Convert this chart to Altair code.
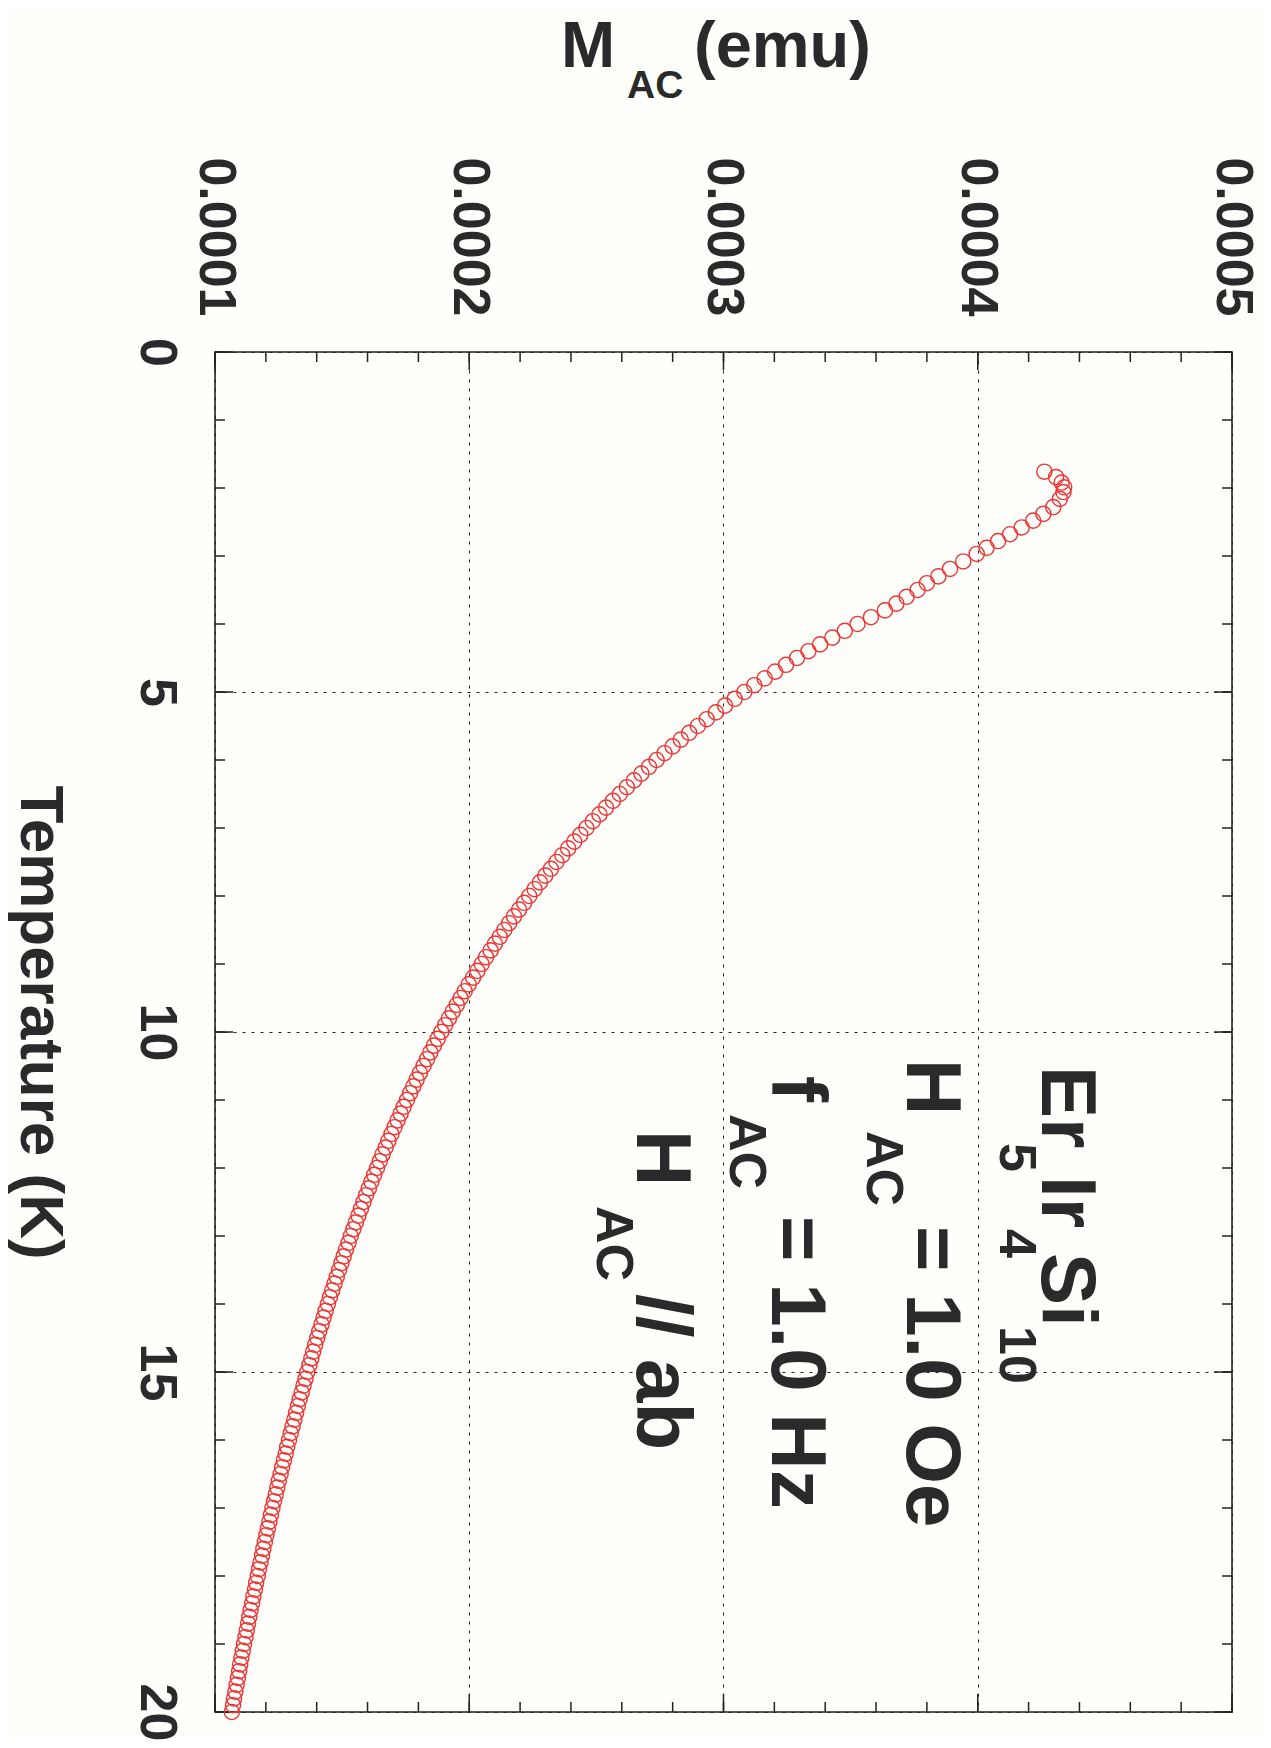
import altair as alt
import pandas as pd

# ---- data (T in K, M_AC in units of 1e-4 emu) ----
temperature_K = [
    1.76, 1.84, 1.92, 1.99, 2.06, 2.16, 2.28, 2.38, 2.48, 2.58,
    2.68, 2.78, 2.88, 2.97, 3.08, 3.19, 3.30, 3.40, 3.50, 3.60,
    3.70, 3.80, 3.90, 4.00,
    4.1, 4.2, 4.3, 4.4, 4.5, 4.6, 4.7, 4.8, 4.9, 5.0,
    5.1, 5.2, 5.3, 5.4, 5.5, 5.6, 5.7, 5.8, 5.9, 6.0,
    6.1, 6.2, 6.3, 6.4, 6.5, 6.6, 6.7, 6.8, 6.9, 7.0,
    7.1, 7.2, 7.3, 7.4, 7.5, 7.6, 7.7, 7.8, 7.9, 8.0,
    8.1, 8.2, 8.3, 8.4, 8.5, 8.6, 8.7, 8.8, 8.9, 9.0,
    9.1, 9.2, 9.3, 9.4, 9.5, 9.6, 9.7, 9.8, 9.9, 10.0,
    10.1, 10.2, 10.3, 10.4, 10.5, 10.6, 10.7, 10.8, 10.9, 11.0,
    11.1, 11.2, 11.3, 11.4, 11.5, 11.6, 11.7, 11.8, 11.9, 12.0,
    12.1, 12.2, 12.3, 12.4, 12.5, 12.6, 12.7, 12.8, 12.9, 13.0,
    13.1, 13.2, 13.3, 13.4, 13.5, 13.6, 13.7, 13.8, 13.9, 14.0,
    14.1, 14.2, 14.3, 14.4, 14.5, 14.6, 14.7, 14.8, 14.9, 15.0,
    15.1, 15.2, 15.3, 15.4, 15.5, 15.6, 15.7, 15.8, 15.9, 16.0,
    16.1, 16.2, 16.3, 16.4, 16.5, 16.6, 16.7, 16.8, 16.9, 17.0,
    17.1, 17.2, 17.3, 17.4, 17.5, 17.6, 17.7, 17.8, 17.9, 18.0,
    18.1, 18.2, 18.3, 18.4, 18.5, 18.6, 18.7, 18.8, 18.9, 19.0,
    19.1, 19.2, 19.3, 19.4, 19.5, 19.6, 19.7, 19.8, 19.9, 20.0,
]
m_ac_1e4_emu = [
    4.262, 4.308, 4.330, 4.340, 4.337, 4.323, 4.297, 4.258, 4.218, 4.173,
    4.127, 4.080, 4.035, 3.996, 3.943, 3.891, 3.845, 3.800, 3.763, 3.720,
    3.680, 3.635, 3.580, 3.527,
    3.477, 3.428, 3.380, 3.334, 3.289, 3.246, 3.203, 3.162, 3.121, 3.082,
    3.044, 3.006, 2.970, 2.934, 2.899, 2.865, 2.832, 2.800, 2.768, 2.737,
    2.707, 2.677, 2.648, 2.620, 2.592, 2.565, 2.538, 2.512, 2.486, 2.461,
    2.437, 2.413, 2.389, 2.366, 2.343, 2.321, 2.299, 2.278, 2.257, 2.236,
    2.216, 2.196, 2.176, 2.157, 2.138, 2.120, 2.101, 2.084, 2.066, 2.049,
    2.032, 2.015, 1.998, 1.982, 1.966, 1.951, 1.935, 1.920, 1.905, 1.890,
    1.876, 1.861, 1.847, 1.834, 1.820, 1.806, 1.793, 1.780, 1.767, 1.755,
    1.742, 1.730, 1.718, 1.706, 1.694, 1.682, 1.671, 1.659, 1.648, 1.637,
    1.626, 1.615, 1.605, 1.594, 1.584, 1.574, 1.564, 1.554, 1.544, 1.534,
    1.525, 1.515, 1.506, 1.497, 1.488, 1.479, 1.470, 1.461, 1.452, 1.444,
    1.435, 1.427, 1.419, 1.410, 1.402, 1.394, 1.386, 1.379, 1.371, 1.363,
    1.356, 1.348, 1.341, 1.333, 1.326, 1.319, 1.312, 1.305, 1.298, 1.291,
    1.284, 1.278, 1.271, 1.264, 1.258, 1.251, 1.245, 1.239, 1.232, 1.226,
    1.220, 1.214, 1.208, 1.202, 1.196, 1.190, 1.185, 1.179, 1.173, 1.168,
    1.162, 1.157, 1.151, 1.146, 1.140, 1.135, 1.130, 1.125, 1.120, 1.114,
    1.109, 1.104, 1.099, 1.095, 1.090, 1.085, 1.080, 1.075, 1.071, 1.066,
]

m_ticks_major = [0.0001, 0.0002, 0.0003, 0.0004, 0.0005]
m_ticks_minor = [0.0001, 0.00012, 0.00014, 0.00016, 0.00018,
                 0.0002, 0.00022, 0.00024, 0.00026, 0.00028,
                 0.0003, 0.00032, 0.00034, 0.00036, 0.00038,
                 0.0004, 0.00042, 0.00044, 0.00046, 0.00048, 0.0005]
t_ticks_major = [0, 5, 10, 15, 20]
t_ticks_minor = [0, 1, 2, 3, 4, 5, 6, 7, 8, 9, 10,
                 11, 12, 13, 14, 15, 16, 17, 18, 19, 20]

# ---- style ----
W, H = 1017, 1360
FONT = "Liberation Sans"
TXT = "#2a2a2a"
RED = "#ee3535"
FRAME = "#222222"
BG = "#fefefa"

df = pd.DataFrame({"T": temperature_K,
                   "M": [v * 1e-4 for v in m_ac_1e4_emu]})

xscale = alt.Scale(domain=[0.0001, 0.0005], nice=False, zero=False)
yscale = alt.Scale(domain=[0, 20], reverse=True, nice=False, zero=False)

x_axis = alt.Axis(orient="top", values=m_ticks_major, format=".4f",
                  labelAngle=90, labelAlign="right", labelBaseline="middle",
                  labelPadding=36, ticks=False, domain=False,
                  grid=True, gridDash=[3, 6], gridColor=FRAME, gridWidth=1,
                  title=None, labelFontSize=52, labelFont=FONT,
                  labelFontWeight="bold", labelColor=TXT,
                  labelOverlap=False, labelFlush=False, labelBound=False)
y_axis = alt.Axis(orient="left", values=t_ticks_major, format="d",
                  labelAngle=90, labelAlign="center", labelBaseline="middle",
                  labelPadding=59, ticks=False, domain=False,
                  grid=True, gridDash=[3, 6], gridColor=FRAME, gridWidth=1,
                  labelFontSize=52, labelFont=FONT, labelFontWeight="bold",
                  labelColor=TXT, labelOverlap=False, labelFlush=False,
                  labelBound=False,
                  title="Temperature (K)", titleAngle=90, titleX=-195,
                  titleY=670, titleAlign="center", titleBaseline="alphabetic",
                  titleFontSize=62, titleFont=FONT, titleFontWeight="bold",
                  titleColor=TXT)

points = alt.Chart(df).mark_point(
    shape="circle", filled=False, size=230, strokeWidth=1.4,
    color=RED, opacity=1
).encode(
    x=alt.X("M:Q", scale=xscale, axis=x_axis),
    y=alt.Y("T:Q", scale=yscale, axis=y_axis),
)


def t_ticks(vals, side, length):
    d = pd.DataFrame({"T": vals})
    if side == "left":
        xv, x2v = 0, length
    else:
        xv, x2v = W, W - length
    return alt.Chart(d).mark_rule(color=FRAME, strokeWidth=1.5).encode(
        y=alt.Y("T:Q", scale=yscale, axis=y_axis),
        x=alt.value(xv), x2=alt.value(x2v))


def m_ticks(vals, side, length):
    d = pd.DataFrame({"M": vals})
    if side == "top":
        yv, y2v = 0, length
    else:
        yv, y2v = H, H - length
    return alt.Chart(d).mark_rule(color=FRAME, strokeWidth=1.5).encode(
        x=alt.X("M:Q", scale=xscale, axis=x_axis),
        y=alt.value(yv), y2=alt.value(y2v))


ticks = [
    t_ticks(t_ticks_minor, "left", 10), t_ticks(t_ticks_major, "left", 18),
    t_ticks(t_ticks_minor, "right", 10), t_ticks(t_ticks_major, "right", 18),
    m_ticks(m_ticks_minor, "top", 10), m_ticks(m_ticks_major, "top", 18),
    m_ticks(m_ticks_minor, "bottom", 10), m_ticks(m_ticks_major, "bottom", 18),
]


def label(txt, x, y, size, angle):
    return alt.Chart(pd.DataFrame({"s": [txt]})).mark_text(
        align="left", baseline="alphabetic", angle=angle, fontSize=size,
        font=FONT, fontWeight="bold", color=TXT
    ).encode(x=alt.value(x), y=alt.value(y), text="s:N")


texts = [
    # top axis title  M_AC (emu)
    label("M", 346, -285, 65, 0),
    label("AC", 412, -254, 39, 0),
    label("(emu)", 479, -285, 65, 0),
    # Er5Ir4Si10
    label("Er", 827, 714, 78, 90),
    label("5", 785, 791, 52, 90),
    label("Ir", 827, 824, 78, 90),
    label("4", 785, 877, 52, 90),
    label("Si", 827, 901, 78, 90),
    label("10", 785, 974, 52, 90),
    # H_AC = 1.0 Oe
    label("H", 692, 707, 78, 90),
    label("AC", 652, 779, 52, 90),
    label("= 1.0 Oe", 692, 874, 78, 90),
    # f_AC = 1.0 Hz
    label("f", 557, 724, 78, 90),
    label("AC", 515, 762, 52, 90),
    label("= 1.0 Hz", 557, 864, 78, 90),
    # H_AC // ab
    label("H", 422, 778, 78, 90),
    label("AC", 382, 854, 52, 90),
    label("// ab", 422, 942, 78, 90),
]

chart = alt.layer(*ticks, points, *texts).properties(
    width=W, height=H,
    autosize=alt.AutoSizeParams(type="none"),
    padding={"left": 207, "top": 344, "right": 31, "bottom": 28},
    background=BG,
).configure_view(stroke=FRAME, strokeWidth=1.6)

chart.save("out.html", embed_options={"renderer": "svg", "actions": False})
